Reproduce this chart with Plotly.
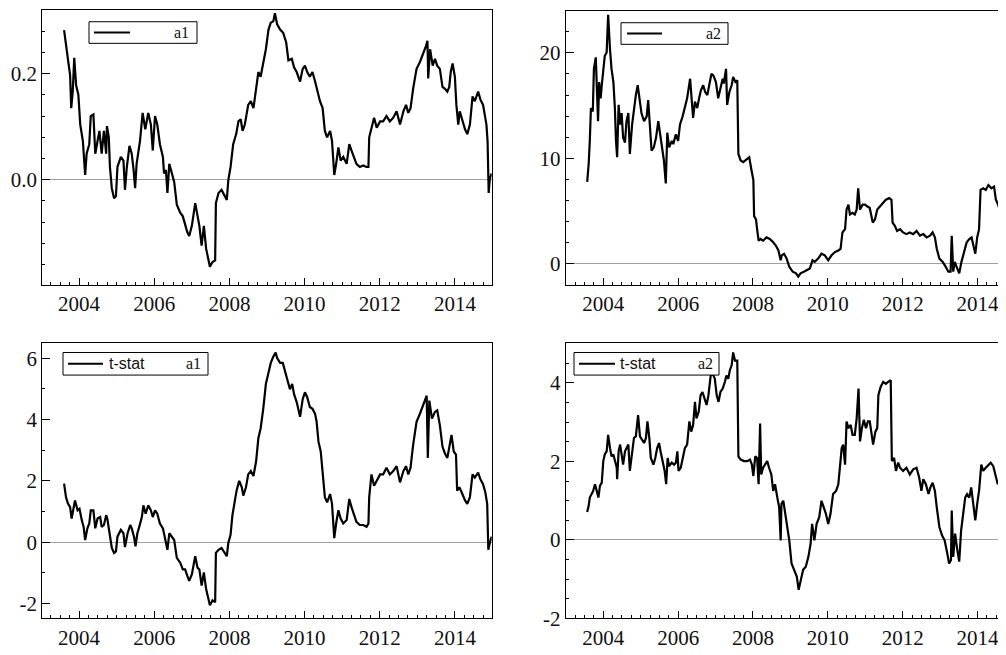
import plotly.graph_objects as go

# ---------------- data (decimal years) ----------------
a1_year = [2003.60, 2003.67, 2003.72, 2003.76, 2003.79, 2003.83, 2003.87, 2003.92, 2003.98, 2004.03,
           2004.10, 2004.16, 2004.20, 2004.27, 2004.31, 2004.38, 2004.43, 2004.49, 2004.54, 2004.60,
           2004.66, 2004.72, 2004.74, 2004.79, 2004.82, 2004.87, 2004.93, 2004.98, 2005.02, 2005.11,
           2005.18, 2005.22, 2005.27, 2005.34, 2005.40, 2005.45, 2005.49, 2005.53, 2005.58, 2005.62,
           2005.69, 2005.76, 2005.84, 2005.91, 2005.96, 2006.02, 2006.08, 2006.15, 2006.23, 2006.26,
           2006.31, 2006.35, 2006.40, 2006.46, 2006.53, 2006.60, 2006.69, 2006.76, 2006.82, 2006.88,
           2006.93, 2007.00, 2007.09, 2007.15, 2007.20, 2007.26, 2007.32, 2007.38, 2007.44, 2007.48,
           2007.55, 2007.62, 2007.64, 2007.71, 2007.79, 2007.86, 2007.93, 2007.97, 2008.03, 2008.10,
           2008.18, 2008.24, 2008.30, 2008.35, 2008.41, 2008.50, 2008.57, 2008.64, 2008.71, 2008.77,
           2008.83, 2008.90, 2008.97, 2009.04, 2009.10, 2009.17, 2009.21, 2009.27, 2009.35, 2009.43,
           2009.51, 2009.57, 2009.66, 2009.72, 2009.79, 2009.88, 2009.95, 2010.01, 2010.07, 2010.14,
           2010.21, 2010.28, 2010.34, 2010.41, 2010.48, 2010.54, 2010.60, 2010.68, 2010.73, 2010.79,
           2010.84, 2010.90, 2010.96, 2011.03, 2011.12, 2011.19, 2011.25, 2011.31, 2011.38, 2011.47,
           2011.56, 2011.65, 2011.70, 2011.72, 2011.78, 2011.85, 2011.92, 2012.01, 2012.09, 2012.18,
           2012.27, 2012.36, 2012.45, 2012.54, 2012.63, 2012.70, 2012.76, 2012.82, 2012.89, 2012.98,
           2013.07, 2013.16, 2013.23, 2013.27, 2013.29, 2013.34, 2013.41, 2013.47, 2013.53, 2013.60,
           2013.67, 2013.73, 2013.80, 2013.85, 2013.89, 2013.94, 2014.00, 2014.04, 2014.09, 2014.13,
           2014.20, 2014.27, 2014.33, 2014.40, 2014.47, 2014.53, 2014.62, 2014.68, 2014.75, 2014.80,
           2014.84, 2014.87, 2014.90, 2014.93, 2014.98]
a1_value = [0.282, 0.250, 0.218, 0.197, 0.135, 0.166, 0.230, 0.178, 0.160, 0.104,
            0.073, 0.009, 0.049, 0.067, 0.120, 0.123, 0.049, 0.073, 0.092, 0.049,
            0.092, 0.049, 0.101, 0.080, 0.024, -0.016, -0.035, -0.031, 0.024, 0.043,
            0.036, -0.019, 0.024, 0.064, 0.049, 0.018, -0.016, 0.030, 0.055, 0.073,
            0.126, 0.095, 0.126, 0.104, 0.055, 0.120, 0.104, 0.067, 0.043, 0.012,
            0.018, -0.025, 0.030, 0.012, -0.004, -0.047, -0.062, -0.069, -0.084, -0.099,
            -0.106, -0.087, -0.044, -0.069, -0.087, -0.124, -0.087, -0.130, -0.149, -0.164,
            -0.155, -0.152, -0.044, -0.025, -0.019, -0.028, -0.038, -0.001, 0.024, 0.067,
            0.086, 0.110, 0.114, 0.092, 0.104, 0.141, 0.148, 0.135, 0.172, 0.203,
            0.194, 0.219, 0.246, 0.283, 0.296, 0.299, 0.314, 0.293, 0.283, 0.277,
            0.259, 0.225, 0.228, 0.212, 0.203, 0.185, 0.209, 0.215, 0.203, 0.194,
            0.203, 0.185, 0.169, 0.148, 0.135, 0.092, 0.080, 0.092, 0.073, 0.009,
            0.030, 0.061, 0.036, 0.043, 0.030, 0.067, 0.055, 0.043, 0.030, 0.024,
            0.027, 0.024, 0.024, 0.080, 0.098, 0.117, 0.098, 0.110, 0.110, 0.120,
            0.110, 0.117, 0.129, 0.104, 0.129, 0.141, 0.126, 0.135, 0.172, 0.209,
            0.222, 0.237, 0.252, 0.262, 0.191, 0.246, 0.215, 0.228, 0.215, 0.209,
            0.175, 0.172, 0.166, 0.175, 0.203, 0.219, 0.194, 0.141, 0.104, 0.129,
            0.110, 0.095, 0.086, 0.104, 0.157, 0.148, 0.166, 0.151, 0.141, 0.117,
            0.104, 0.073, -0.025, 0.002, 0.012]

a2_year = [2003.57, 2003.61, 2003.64, 2003.67, 2003.72, 2003.75, 2003.80, 2003.82, 2003.86, 2003.89,
           2003.93, 2003.96, 2004.00, 2004.04, 2004.09, 2004.13, 2004.18, 2004.22, 2004.27, 2004.31,
           2004.34, 2004.37, 2004.41, 2004.45, 2004.49, 2004.53, 2004.58, 2004.62, 2004.67, 2004.71,
           2004.77, 2004.82, 2004.87, 2004.92, 2004.96, 2005.02, 2005.09, 2005.16, 2005.20, 2005.25,
           2005.29, 2005.35, 2005.41, 2005.47, 2005.51, 2005.57, 2005.62, 2005.67, 2005.71, 2005.76,
           2005.83, 2005.87, 2005.94, 2006.00, 2006.05, 2006.12, 2006.18, 2006.24, 2006.32, 2006.36,
           2006.40, 2006.45, 2006.51, 2006.56, 2006.61, 2006.67, 2006.72, 2006.78, 2006.83, 2006.89,
           2006.94, 2007.01, 2007.07, 2007.13, 2007.19, 2007.22, 2007.28, 2007.31, 2007.37, 2007.43,
           2007.47, 2007.53, 2007.58, 2007.61, 2007.67, 2007.74, 2007.83, 2007.90, 2007.96, 2008.01,
           2008.03, 2008.08, 2008.11, 2008.15, 2008.20, 2008.27, 2008.36, 2008.45, 2008.54, 2008.61,
           2008.68, 2008.74, 2008.77, 2008.83, 2008.90, 2008.97, 2009.06, 2009.15, 2009.21, 2009.27,
           2009.36, 2009.45, 2009.52, 2009.59, 2009.65, 2009.74, 2009.83, 2009.92, 2010.01, 2010.10,
           2010.19, 2010.28, 2010.34, 2010.39, 2010.46, 2010.50, 2010.55, 2010.59, 2010.66, 2010.72,
           2010.77, 2010.81, 2010.86, 2010.93, 2010.99, 2011.05, 2011.12, 2011.20, 2011.26, 2011.32,
           2011.39, 2011.46, 2011.55, 2011.64, 2011.70, 2011.73, 2011.79, 2011.85, 2011.93, 2012.01,
           2012.10, 2012.19, 2012.28, 2012.37, 2012.46, 2012.55, 2012.64, 2012.73, 2012.80, 2012.86,
           2012.91, 2012.98, 2013.07, 2013.15, 2013.22, 2013.28, 2013.31, 2013.35, 2013.39, 2013.44,
           2013.51, 2013.57, 2013.64, 2013.71, 2013.78, 2013.84, 2013.88, 2013.94, 2013.99, 2014.04,
           2014.08, 2014.15, 2014.22, 2014.29, 2014.37, 2014.44, 2014.49, 2014.55, 2014.61, 2014.67,
           2014.73, 2014.80]
a2_value = [7.78, 9.49, 11.66, 14.76, 14.45, 18.48, 19.57, 17.55, 13.52, 17.24,
            15.69, 16.93, 18.79, 19.72, 20.03, 23.60, 20.34, 18.48, 17.24, 14.76,
            11.66, 10.11, 15.07, 13.21, 14.29, 11.97, 11.50, 13.52, 14.29, 10.42,
            13.21, 14.76, 16.00, 16.93, 15.69, 14.29, 13.52, 13.98, 15.53, 13.21,
            10.73, 11.04, 11.97, 13.52, 12.59, 11.04, 9.80, 7.63, 12.43, 11.04,
            11.66, 11.35, 12.28, 11.66, 13.21, 13.98, 14.76, 15.69, 17.55, 15.07,
            13.83, 15.38, 14.76, 15.69, 16.47, 16.93, 16.31, 16.00, 16.93, 18.02,
            17.86, 17.24, 15.69, 16.62, 17.55, 17.09, 18.48, 15.07, 16.31, 16.93,
            17.71, 17.24, 17.40, 10.42, 9.80, 9.64, 9.95, 10.11, 8.87, 7.94,
            4.53, 4.22, 3.29, 2.20, 2.36, 2.20, 2.51, 2.36, 2.05, 1.74,
            1.27, 0.34, 0.81, 0.96, 0.50, -0.28, -0.74, -0.90, -1.21, -0.90,
            -0.74, -0.59, -0.43, 0.34, 0.19, 0.50, 0.96, 0.81, 0.34, 0.81,
            1.12, 1.27, 1.43, 2.98, 3.29, 5.15, 5.61, 4.68, 4.84, 4.68,
            5.15, 7.16, 5.15, 5.61, 5.61, 5.46, 5.30, 3.91, 4.22, 5.15,
            5.46, 5.77, 6.08, 6.23, 6.08, 3.91, 3.60, 3.13, 3.29, 2.98,
            2.82, 2.98, 2.82, 3.13, 2.67, 2.82, 2.51, 2.67, 2.98, 2.51,
            1.43, 0.50, 0.19, -0.28, -0.74, -0.74, 2.67, -0.74, 0.19, -0.28,
            -0.90, 0.19, 1.27, 2.05, 2.36, 2.51, 1.89, 0.96, 2.51, 3.29,
            7.01, 7.16, 7.01, 7.47, 7.16, 7.32, 6.08, 5.61, 4.84, 5.30,
            5.15, 5.00]

t1_year = [2003.60, 2003.65, 2003.70, 2003.76, 2003.80, 2003.85, 2003.89, 2003.96, 2004.01, 2004.07,
           2004.12, 2004.16, 2004.22, 2004.27, 2004.31, 2004.38, 2004.43, 2004.49, 2004.56, 2004.60,
           2004.66, 2004.72, 2004.75, 2004.81, 2004.87, 2004.93, 2004.98, 2005.02, 2005.11, 2005.18,
           2005.22, 2005.29, 2005.36, 2005.40, 2005.46, 2005.50, 2005.55, 2005.60, 2005.67, 2005.71,
           2005.77, 2005.84, 2005.91, 2005.96, 2006.02, 2006.08, 2006.15, 2006.23, 2006.29, 2006.35,
           2006.40, 2006.46, 2006.53, 2006.60, 2006.69, 2006.76, 2006.82, 2006.88, 2006.93, 2007.00,
           2007.09, 2007.15, 2007.20, 2007.26, 2007.32, 2007.38, 2007.44, 2007.48, 2007.55, 2007.62,
           2007.64, 2007.71, 2007.79, 2007.86, 2007.93, 2007.97, 2008.03, 2008.08, 2008.13, 2008.19,
           2008.26, 2008.33, 2008.37, 2008.44, 2008.50, 2008.57, 2008.64, 2008.71, 2008.77, 2008.83,
           2008.90, 2008.97, 2009.04, 2009.10, 2009.17, 2009.23, 2009.27, 2009.35, 2009.42, 2009.48,
           2009.54, 2009.61, 2009.67, 2009.72, 2009.79, 2009.88, 2009.95, 2010.01, 2010.07, 2010.14,
           2010.21, 2010.28, 2010.32, 2010.37, 2010.43, 2010.48, 2010.54, 2010.60, 2010.68, 2010.73,
           2010.79, 2010.84, 2010.90, 2010.96, 2011.03, 2011.12, 2011.19, 2011.25, 2011.31, 2011.38,
           2011.47, 2011.56, 2011.65, 2011.70, 2011.72, 2011.78, 2011.85, 2011.92, 2012.01, 2012.09,
           2012.18, 2012.27, 2012.36, 2012.45, 2012.54, 2012.63, 2012.70, 2012.76, 2012.82, 2012.89,
           2012.98, 2013.07, 2013.16, 2013.25, 2013.28, 2013.32, 2013.39, 2013.47, 2013.53, 2013.60,
           2013.67, 2013.73, 2013.80, 2013.85, 2013.91, 2013.97, 2014.03, 2014.06, 2014.12, 2014.18,
           2014.27, 2014.33, 2014.40, 2014.47, 2014.53, 2014.62, 2014.68, 2014.75, 2014.81, 2014.86,
           2014.89, 2014.93, 2014.98]
t1_value = [1.91, 1.47, 1.27, 1.14, 0.77, 1.04, 1.36, 1.04, 1.09, 0.72,
            0.50, 0.07, 0.45, 0.61, 1.04, 1.04, 0.45, 0.77, 0.82, 0.50,
            0.56, 0.88, 0.77, 0.29, -0.19, -0.35, -0.30, 0.18, 0.40, 0.29,
            -0.16, 0.29, 0.56, 0.45, 0.18, -0.14, 0.29, 0.50, 0.82, 1.20,
            0.93, 1.20, 1.04, 0.82, 1.04, 0.93, 0.61, 0.45, 0.07, -0.25,
            0.29, 0.18, 0.07, -0.51, -0.67, -0.89, -0.89, -1.10, -1.26, -1.05,
            -0.46, -0.83, -0.89, -1.42, -0.99, -1.53, -1.85, -2.06, -1.90, -1.96,
            -0.35, -0.25, -0.19, -0.35, -0.46, -0.03, 0.24, 0.88, 1.25, 1.68,
            2.00, 1.79, 1.52, 1.79, 2.21, 2.32, 2.16, 2.64, 3.39, 3.71,
            4.35, 5.16, 5.53, 5.85, 6.06, 6.19, 6.01, 5.85, 5.85, 5.58,
            5.32, 4.99, 5.16, 4.83, 4.57, 4.09, 4.67, 4.89, 4.73, 4.41,
            4.35, 4.19, 3.93, 3.28, 2.96, 2.32, 1.47, 1.30, 1.57, 1.25,
            0.13, 0.61, 1.04, 0.77, 0.61, 0.72, 1.41, 1.14, 0.88, 0.66,
            0.56, 0.56, 0.50, 0.61, 1.47, 2.21, 1.84, 2.00, 2.21, 2.21,
            2.43, 2.21, 2.32, 2.48, 1.95, 2.32, 2.48, 2.21, 2.43, 3.18,
            3.93, 4.19, 4.51, 4.78, 2.75, 4.62, 4.03, 4.25, 4.30, 3.82,
            3.12, 2.91, 2.75, 3.07, 3.50, 2.96, 2.86, 1.68, 1.79, 1.63,
            1.36, 1.25, 1.47, 2.21, 2.11, 2.27, 2.05, 1.89, 1.63, 1.25,
            -0.25, -0.03, 0.18]

t2_year = [2003.57, 2003.61, 2003.64, 2003.69, 2003.73, 2003.78, 2003.82, 2003.87, 2003.91, 2003.96,
           2004.00, 2004.04, 2004.09, 2004.13, 2004.18, 2004.22, 2004.27, 2004.31, 2004.36, 2004.37,
           2004.41, 2004.45, 2004.49, 2004.53, 2004.58, 2004.62, 2004.67, 2004.71, 2004.77, 2004.82,
           2004.87, 2004.93, 2004.98, 2005.03, 2005.09, 2005.14, 2005.18, 2005.23, 2005.27, 2005.34,
           2005.39, 2005.44, 2005.49, 2005.53, 2005.59, 2005.64, 2005.68, 2005.72, 2005.76, 2005.83,
           2005.89, 2005.94, 2005.98, 2006.01, 2006.07, 2006.12, 2006.18, 2006.24, 2006.30, 2006.35,
           2006.40, 2006.45, 2006.49, 2006.55, 2006.60, 2006.65, 2006.71, 2006.76, 2006.81, 2006.87,
           2006.92, 2006.98, 2007.03, 2007.08, 2007.13, 2007.19, 2007.25, 2007.29, 2007.34, 2007.38,
           2007.43, 2007.47, 2007.52, 2007.58, 2007.61, 2007.67, 2007.76, 2007.85, 2007.92, 2007.97,
           2008.01, 2008.06, 2008.11, 2008.15, 2008.19, 2008.22, 2008.27, 2008.33, 2008.38, 2008.43,
           2008.49, 2008.54, 2008.59, 2008.65, 2008.70, 2008.74, 2008.76, 2008.81, 2008.85, 2008.92,
           2008.97, 2009.03, 2009.09, 2009.17, 2009.22, 2009.27, 2009.34, 2009.41, 2009.48, 2009.54,
           2009.58, 2009.64, 2009.70, 2009.77, 2009.83, 2009.89, 2009.95, 2010.01, 2010.07, 2010.14,
           2010.22, 2010.28, 2010.32, 2010.37, 2010.41, 2010.46, 2010.50, 2010.55, 2010.61, 2010.66,
           2010.72, 2010.77, 2010.82, 2010.86, 2010.91, 2010.96, 2011.02, 2011.07, 2011.12, 2011.18,
           2011.21, 2011.27, 2011.32, 2011.35, 2011.41, 2011.48, 2011.55, 2011.61, 2011.68, 2011.71,
           2011.77, 2011.82, 2011.88, 2011.93, 2012.01, 2012.10, 2012.19, 2012.28, 2012.37, 2012.44,
           2012.50, 2012.55, 2012.62, 2012.69, 2012.74, 2012.80, 2012.86, 2012.91, 2012.98, 2013.05,
           2013.12, 2013.19, 2013.24, 2013.29, 2013.31, 2013.35, 2013.40, 2013.46, 2013.51, 2013.56,
           2013.62, 2013.67, 2013.72, 2013.78, 2013.83, 2013.88, 2013.94, 2013.99, 2014.04, 2014.10,
           2014.15, 2014.22, 2014.29, 2014.35, 2014.42, 2014.49, 2014.54, 2014.60, 2014.67, 2014.73,
           2014.80]
t2_value = [0.71, 0.87, 1.08, 1.17, 1.25, 1.42, 1.25, 1.08, 1.38, 1.46,
            2.01, 2.18, 2.26, 2.68, 2.34, 2.13, 2.18, 2.01, 1.84, 1.55,
            2.26, 2.43, 2.09, 1.92, 2.26, 2.34, 2.43, 1.76, 2.26, 2.60,
            2.64, 3.18, 2.64, 2.55, 2.47, 2.60, 3.02, 2.60, 2.09, 1.92,
            2.09, 2.34, 2.47, 2.26, 2.01, 1.76, 1.42, 2.09, 1.88, 1.97,
            1.92, 1.97, 2.26, 1.76, 1.84, 2.09, 2.34, 2.43, 3.02, 2.76,
            2.93, 3.52, 3.10, 3.27, 3.69, 3.77, 3.61, 3.44, 3.69, 4.19,
            4.24, 4.11, 3.69, 3.52, 3.77, 3.86, 4.03, 4.19, 4.11, 4.32,
            4.45, 4.78, 4.57, 4.57, 2.13, 2.05, 2.01, 2.01, 2.05, 1.92,
            1.63, 2.13, 2.09, 1.42, 2.97, 1.67, 1.84, 1.92, 2.01, 1.84,
            1.67, 1.25, 1.42, 1.08, 0.83, -0.01, 0.92, 1.00, 0.75, 0.41,
            -0.01, -0.60, -0.76, -0.93, -1.27, -1.02, -0.76, -0.68, -0.43, -0.09,
            0.41, -0.01, 0.41, 0.58, 1.00, 0.83, 0.66, 0.41, 0.66, 1.17,
            1.25, 1.42, 1.76, 2.34, 2.43, 1.92, 3.02, 2.85, 2.93, 2.68,
            2.68, 3.10, 3.86, 2.51, 2.85, 3.06, 2.85, 3.02, 3.02, 2.60,
            2.43, 2.76, 2.85, 3.69, 3.90, 4.03, 3.98, 4.03, 4.07, 2.01,
            2.09, 1.76, 1.97, 1.84, 1.76, 1.84, 1.67, 1.80, 1.84, 1.59,
            1.25, 1.55, 1.42, 1.17, 1.34, 1.46, 1.25, 0.83, 0.33, 0.12,
            -0.01, -0.34, -0.60, -0.51, 0.75, -0.43, 0.16, -0.26, -0.55, 0.24,
            0.75, 1.08, 1.17, 1.08, 1.34, 0.92, 0.50, 0.92, 1.25, 1.92,
            1.76, 1.84, 1.92, 1.97, 1.88, 1.59, 1.42, 1.59, 1.34, 1.50,
            1.45]

year_ticks = [2004, 2006, 2008, 2010, 2012, 2014]
panel_labels = [("", "a1"), ("", "a2"), ("t-stat", "a1"), ("t-stat", "a2")]

# ---------------- layout helpers (page pixel -> paper; page body has an 8px margin) ----------------
OFF = 8
W, H = 1006 - OFF, 655 - OFF
def px(x):
    return (x - OFF) / W
def py(y):
    return 1 - (y - OFF) / H

SERIF = "Liberation Serif"
SANS = "Liberation Sans"

fig = go.Figure()

panels = [
    # (x, y, xdom px, ydom px, xrange, yrange, ytickvals, yticktext, yminor, right border)
    (a1_year, a1_value, (42.3, 491.7), (10, 290), [2003.02, 2014.98], [-0.198, 0.32],
     [0.0, 0.2], ["0.0", "0.2"], 0.04, True),
    (a2_year, a2_value, (565.7, 1006), (10.7, 290), [2002.996, 2014.76], [-1.98, 24.0],
     [0, 10, 20], ["0", "10", "20"], 2, False),
    (t1_year, t1_value, (42.3, 491.7), (349.3, 630), [2003.02, 2014.98], [-2.49, 6.5],
     [-2, 0, 2, 4, 6], ["-2", "0", "2", "4", "6"], 1, True),
    (t2_year, t2_value, (565.7, 1006), (349.3, 630), [2002.996, 2014.76], [-2.0, 5.02],
     [-2, 0, 2, 4], ["-2", "0", "2", "4"], 0.5, False),
]

for i, (xs, ys, xd, yd, xr, yr, tv, tt, ymin, rb) in enumerate(panels):
    n = "" if i == 0 else str(i + 1)
    fig.add_trace(go.Scatter(x=xs, y=ys, mode="lines", xaxis="x" + n, yaxis="y" + n,
                             line=dict(color="black", width=2.2), showlegend=False,
                             hoverinfo="skip"))
    fig.layout["xaxis" + n] = dict(
        domain=[px(xd[0]), min(1.0, px(xd[1]))], range=xr, anchor="y" + n,
        showgrid=False, zeroline=False, showline=True, linecolor="black", linewidth=1,
        mirror=True, ticks="inside", ticklen=7, tickcolor="black", tickwidth=1,
        tickmode="array", tickvals=year_ticks, ticktext=[str(v) for v in year_ticks],
        tickfont=dict(family=SERIF, size=21, color="#111"),
        minor=dict(tickmode="linear", tick0=2004, dtick=0.25, ticks="inside",
                   ticklen=3, tickcolor="black", showgrid=False),
    )
    fig.layout["yaxis" + n] = dict(
        domain=[py(yd[1]), py(yd[0])], range=yr, anchor="x" + n,
        showgrid=False, zeroline=True, zerolinecolor="#a0a0a0", zerolinewidth=1,
        showline=True, linecolor="black", linewidth=1, mirror=rb,
        ticks="inside", ticklen=8, tickcolor="black", tickwidth=1,
        tickmode="array", tickvals=tv, ticktext=tt,
        tickfont=dict(family=SERIF, size=21, color="#111"),
        minor=dict(tickmode="linear", tick0=0, dtick=ymin, ticks="inside",
                   ticklen=3, tickcolor="black", showgrid=False),
    )

# ---------------- legend boxes (shapes + text) ----------------
legends = [
    # box px (x0, y0, x1, y1), line x0,x1, label1 left, label2 right edge
    ((89, 22, 197, 44), (94, 130), None, 191),
    ((621, 23, 728, 45), (627, 662), None, 723),
    ((63, 359, 208, 382), (68, 103), 107, 203),
    ((574, 359, 719, 382), (579, 615), 618, 715),
]
shapes = []
annotations = []
for (box, ln, lx, rx), (lab1, lab2) in zip(legends, panel_labels):
    x0, y0, x1, y1 = box
    ym = (y0 + y1) / 2
    shapes.append(dict(type="rect", xref="paper", yref="paper",
                       x0=px(x0), x1=px(x1), y0=py(y1), y1=py(y0),
                       line=dict(color="black", width=1), fillcolor="white", layer="above"))
    shapes.append(dict(type="line", xref="paper", yref="paper",
                       x0=px(ln[0]), x1=px(ln[1]), y0=py(ym), y1=py(ym),
                       line=dict(color="black", width=2), layer="above"))
    if lab1:
        annotations.append(dict(text=lab1, xref="paper", yref="paper", x=px(lx), y=py(ym),
                                xanchor="left", yanchor="middle", showarrow=False,
                                font=dict(family=SANS, size=16, color="#111")))
    annotations.append(dict(text=lab2, xref="paper", yref="paper", x=px(rx), y=py(ym),
                            xanchor="right", yanchor="middle", showarrow=False,
                            font=dict(family=SERIF, size=16, color="#111")))

fig.update_layout(width=W, height=H, margin=dict(l=0, r=0, t=0, b=0),
                  paper_bgcolor="white", plot_bgcolor="white",
                  shapes=shapes, annotations=annotations, showlegend=False)

fig.write_html("out.html")
